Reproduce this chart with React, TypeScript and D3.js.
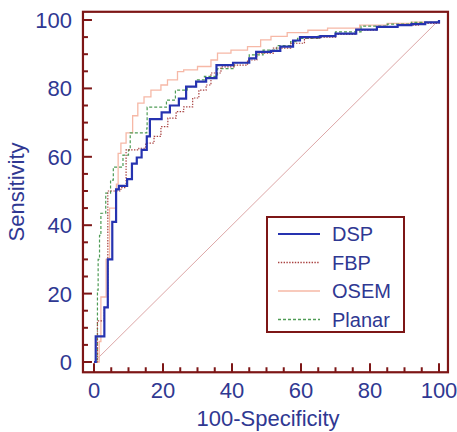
import * as d3 from 'd3';

// ROC step points: [100-specificity, sensitivity], the curve steps up at each x
const dsp: [number, number][] = [
  [0, 0], [0.5, 7.5], [3, 16], [4, 30], [5.3, 41], [6.4, 50.5], [7.2, 51.5], [9.6, 53.5],
  [11, 58], [12.4, 59.8], [13.8, 62], [15.3, 66], [16.2, 71], [19.6, 73], [22, 75],
  [24.6, 77], [26.7, 80.5], [29.6, 82], [32.5, 83], [35.5, 86.8], [40.3, 87.5], [45, 88.8],
  [47, 90.7], [51.3, 91], [54, 92.2], [57.7, 94], [59.7, 95], [65.6, 95.3], [70, 96],
  [76, 97.2], [82, 98], [88, 98.5], [92, 98.8], [96, 99.3], [100, 100],
];
const fbp: [number, number][] = [
  [0, 0], [1, 12], [3, 16], [4, 50], [7.8, 51], [9.3, 62], [13, 62.5], [15, 64], [17.4, 66],
  [19.4, 68.8], [21.4, 71.3], [23.8, 73.2], [26, 74.6], [28.6, 77.2], [30.4, 79.5],
  [32.5, 81], [33.9, 84.5], [36.8, 86.3], [40.6, 86.8], [44.5, 88.3], [47.2, 90.3],
  [52, 91.8], [57, 93.2], [61, 94.7], [65.8, 95], [70, 95.8], [76, 97], [82, 97.8],
  [88, 98.5], [94, 99], [100, 100],
];
const osem: [number, number][] = [
  [0, 0], [1.5, 6], [2, 19], [3.5, 30], [4.5, 45], [6.5, 52], [7, 61], [7.8, 64], [9.3, 67],
  [11.2, 72], [12.7, 75.7], [14.5, 77.5], [16.5, 79.5], [19.4, 81], [21.3, 82.5],
  [24.2, 84.9], [26, 85.4], [30, 86.4], [33.9, 88.3], [35.8, 90.3], [39.7, 91.2],
  [44.5, 92.2], [48.3, 94.2], [51.3, 95.2], [56, 96.3], [62, 97], [67.7, 97.6], [77, 98.5],
  [85, 99], [92, 99.4], [100, 100],
];
const planar: [number, number][] = [
  [0, 0], [1, 21], [1.2, 30], [1.6, 37], [2, 43.5], [3.4, 49.4], [4.8, 53.2], [5.6, 57],
  [8.4, 60.5], [10, 62], [10.5, 67], [15.3, 68.4], [15.4, 74.5], [21, 76.6], [23.6, 79.5],
  [27, 80.5], [29.5, 82.5], [32, 83.5], [35.8, 85.8], [40.6, 87.5], [45, 89.8], [49, 91.2],
  [53, 92.5], [57, 93.7], [59, 94.6], [65, 95.3], [70, 96.5], [77.4, 98.2], [85, 98.8],
  [92, 99.3], [100, 100],
];

const seriesNames = ['DSP', 'FBP', 'OSEM', 'Planar'];
const majorTicks = [0, 20, 40, 60, 80, 100];

const TEXT = '#2f3892';
const FRAME = '#7d1616';

const styles: Record<string, { color: string; width: number; dash?: string }> = {
  DSP: { color: '#2633b0', width: 2.2 },
  FBP: { color: '#a8403f', width: 1.2, dash: '1.4,1.4' },
  OSEM: { color: '#f6b8a6', width: 1.3 },
  Planar: { color: '#4f9c56', width: 1.2, dash: '3,2' },
};

export default function App() {
  const W = 457, H = 432;
  const x = d3.scaleLinear().domain([0, 100]).range([94, 439]);
  const y = d3.scaleLinear().domain([0, 100]).range([362, 20]);
  const frame = { x0: x(-3.2), x1: x(102.6), y0: y(102.4), y1: y(-3) };

  const line = d3.line<[number, number]>()
    .x(d => x(d[0]))
    .y(d => y(d[1]))
    .curve(d3.curveStepAfter);

  const dataBy: Record<string, [number, number][]> = { DSP: dsp, FBP: fbp, OSEM: osem, Planar: planar };
  const drawOrder = ['OSEM', 'Planar', 'FBP', 'DSP'];
  const minor = d3.range(0, 101, 5);

  const font = 'Arial, "Liberation Sans", Helvetica, sans-serif';

  return (
    <svg width={W} height={H} style={{ position: 'absolute', left: 0, top: 0, background: '#fff' }}
      fontFamily={font}>
      {/* chance diagonal */}
      <line x1={x(0)} y1={y(0)} x2={x(100)} y2={y(100)} stroke="#dda7a7" strokeWidth={1} />

      {drawOrder.map(name => (
        <path key={name} d={line(dataBy[name]) ?? ''} fill="none"
          stroke={styles[name].color} strokeWidth={styles[name].width}
          strokeDasharray={styles[name].dash} />
      ))}

      {/* frame */}
      <rect x={frame.x0} y={frame.y0} width={frame.x1 - frame.x0} height={frame.y1 - frame.y0}
        fill="none" stroke={FRAME} strokeWidth={2.2} />

      {/* ticks */}
      {minor.map(v => {
        const len = v % 20 === 0 ? 9 : 5;
        return (
          <g key={v} stroke={FRAME} strokeWidth={2}>
            <line x1={frame.x0} x2={frame.x0 + len} y1={y(v)} y2={y(v)} />
            <line x1={x(v)} x2={x(v)} y1={frame.y1} y2={frame.y1 - len} />
          </g>
        );
      })}

      {/* tick labels */}
      {majorTicks.map(v => (
        <g key={v} fill={TEXT} fontSize={22}>
          <text x={72} y={y(v)} dy="0.36em" textAnchor="end">{v}</text>
          <text x={x(v)} y={398} textAnchor="middle">{v}</text>
        </g>
      ))}

      <text x={268} y={426} textAnchor="middle" fill={TEXT} fontSize={22}>100-Specificity</text>
      <text transform={`translate(24,192) rotate(-90)`} textAnchor="middle" fill={TEXT} fontSize={22}>Sensitivity</text>

      {/* legend */}
      <rect x={267} y={217} width={137} height={115} fill="#fff" stroke={FRAME} strokeWidth={2} />
      {seriesNames.map((name, i) => {
        const ly = 234 + i * 28.5;
        return (
          <g key={name}>
            <line x1={278} x2={320} y1={ly} y2={ly} stroke={styles[name].color}
              strokeWidth={name === 'DSP' ? 2.2 : 1.3} strokeDasharray={styles[name].dash} />
            <text x={332} y={ly} dy="0.36em" fill={TEXT} fontSize={20}>{name}</text>
          </g>
        );
      })}
    </svg>
  );
}
